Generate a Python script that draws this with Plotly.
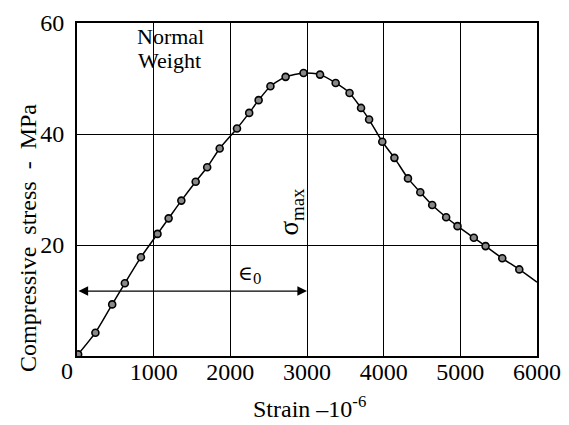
import plotly.graph_objects as go

strain = [15, 240, 459, 624, 834, 1050, 1195, 1361, 1548, 1698, 1861, 2087, 2246,
          2369, 2523, 2721, 2955, 3170, 3374, 3555, 3705, 3810, 3982, 4140, 4317,
          4478, 4633, 4815, 4963, 5176, 5329, 5547, 5769]
stress = [0.3, 4.2, 9.3, 13.1, 17.8, 22.0, 24.8, 28.0, 31.4, 34.0, 37.4, 41.0, 43.8,
          46.1, 48.6, 50.3, 51.0, 50.7, 49.2, 47.4, 44.7, 42.6, 38.6, 35.7, 32.0,
          29.5, 27.2, 25.0, 23.4, 21.3, 19.8, 17.6, 15.6]
curve_end_strain = [6000]
curve_end_stress = [13.3]

x_ticks = [1000, 2000, 3000, 4000, 5000, 6000]
y_ticks = [20, 40, 60]
eps0_strain = 3000
eps0_stress = 11.7

FONT = "'Liberation Serif', 'Times New Roman', serif"

def f(size, family=FONT):
    return dict(family=family, size=size, color="black")

fig = go.Figure()
fig.add_trace(go.Scatter(
    x=strain + curve_end_strain, y=stress + curve_end_stress,
    mode="lines", line=dict(color="black", width=1.5, shape="spline", smoothing=0.6),
    hoverinfo="skip", showlegend=False))
fig.add_trace(go.Scatter(
    x=strain, y=stress, mode="markers",
    marker=dict(symbol="circle", size=7, color="#888888",
                line=dict(color="black", width=1.6)),
    showlegend=False))

# page body has an 8px margin, so the figure is offset by 8px right/down
fig.update_layout(
    width=561, height=417,
    margin=dict(l=69, r=32, t=15, b=69),
    paper_bgcolor="white", plot_bgcolor="white",
    font=f(24),
    xaxis=dict(range=[0, 6000], tickvals=x_ticks, ticktext=[str(v) for v in x_ticks],
               showgrid=True, gridcolor="black", gridwidth=1.4,
               showline=True, linecolor="black", linewidth=2, mirror=True,
               zeroline=False, ticks="", automargin=False, ticklabelstandoff=-7,
               tickfont=f(24)),
    yaxis=dict(range=[0, 60], tickvals=y_ticks, ticktext=[str(v) for v in y_ticks],
               showgrid=True, gridcolor="black", gridwidth=1.2,
               showline=True, linecolor="black", linewidth=2, mirror=True,
               zeroline=False, ticks="", automargin=False, ticklabelstandoff=6,
               tickfont=f(24)),
)

anns = [
    dict(text="0", xref="paper", yref="paper", x=(67 - 77) / 460, y=(356 - 371) / 333,
         showarrow=False, xanchor="center", yanchor="middle", font=f(24)),
    dict(text="Compressive\u00a0\u00a0stress\u00a0\u00a0-\u00a0\u00a0MPa", xref="paper", yref="paper",
         x=(28 - 77) / 460, y=(356 - 238) / 333, textangle=-90,
         showarrow=False, xanchor="center", yanchor="middle", font=f(24)),
    dict(text="Strain \u201310<sup>-6</sup>", xref="paper", yref="paper",
         x=(309 - 77) / 460, y=(356 - 407) / 333,
         showarrow=False, xanchor="center", yanchor="middle", font=f(24)),
    dict(text="Normal", x=1225, y=57.6, showarrow=False, xanchor="center", yanchor="middle",
         font=f(22)),
    dict(text="Weight", x=1200, y=53.3, showarrow=False, xanchor="center", yanchor="middle",
         font=f(22)),
    dict(text="\u03c3<sub>max</sub>", x=2790, y=26, textangle=-90, showarrow=False,
         xanchor="center", yanchor="middle", font=f(27)),
    dict(text="\u2208<sub>0</sub>", x=2250, y=14.8, showarrow=False,
         xanchor="center", yanchor="middle", font=f(20, "DejaVu Serif")),
    dict(text="", x=eps0_strain, y=eps0_stress, ax=0, ay=eps0_stress,
         xref="x", yref="y", axref="x", ayref="y", showarrow=True,
         arrowhead=2, startarrowhead=2, arrowside="end+start", arrowsize=1.6,
         arrowwidth=1.2, arrowcolor="black"),
]
fig.update_layout(annotations=anns)

fig.write_html("out.html")
